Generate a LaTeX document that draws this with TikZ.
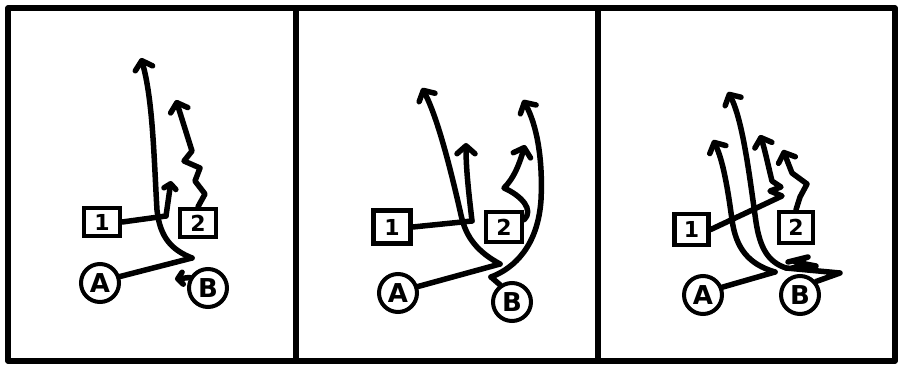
\documentclass[tikz,border=0pt]{standalone}
\usepackage{fontspec}
\setmainfont{DejaVu Sans}
\usetikzlibrary{arrows.meta}
\begin{document}
\begin{tikzpicture}[x=1pt,y=-1pt,
  frame/.style={line width=5.5pt, line join=round},
  route/.style={line width=5.5pt, line cap=round, line join=round},
  arr/.style={route, -{Straight Barb[length=8pt,width=18pt,round]}},
  arrsmall/.style={route, -{Straight Barb[length=5pt,width=12pt,round]}},
  player/.style={circle, draw, line width=4pt, minimum size=38pt, inner sep=0pt, fill=white,
    font=\bfseries\fontsize{26}{26}\selectfont},
  rec/.style={rectangle, draw, line width=4.5pt, minimum width=36pt, minimum height=28pt, inner sep=0pt, fill=white,
    font=\bfseries\fontsize{22}{22}\selectfont}]
\useasboundingbox (0,0) rectangle (899,366);
% frame
\draw[frame] (8,8) rectangle (895,361);
\draw[frame] (296,8) -- (296,361);
\draw[frame] (598,8) -- (598,361);

% ---------- panel 1 ----------
\coordinate (k1) at (192,258);
\coordinate (t1) at (141,58);
\coordinate (c11) at (166,216);
\coordinate (t11) at (171,181);
\coordinate (t12) at (176,100);
\coordinate (t13) at (175,279);
\draw[arr] (k1) .. controls (172,250) and (160,238) .. (157,210) .. controls (154,160) and (153,100) .. (t1);
\draw[arrsmall] (c11) -- (t11);
\node[rec] (b11) at (102,222) {1};
\node[rec] (b12) at (198,223) {2};
\node[player] (A1) at (100,283) {A};
\node[player] (B1) at (208,288) {B};
\draw[route] (A1.18) -- (k1);
\draw[route] (b11.east) -- (c11);
\draw[arr] (b12.north) -- (205,194) -- (195,181) -- (200,168) -- (184,161) -- (192,151) -- (t12);
\draw[arrsmall] (B1.150) -- (t13);

% ---------- panel 2 ----------
\coordinate (k2) at (500,264);
\coordinate (t2) at (422,88);
\coordinate (c21) at (472,221);
\coordinate (t21) at (466,143);
\coordinate (k22) at (504,188);
\coordinate (t22) at (525,145);
\coordinate (k23) at (491,277);
\coordinate (t23) at (523,100);
\draw[arr] (k2) .. controls (478,252) and (466,238) .. (461,215) .. controls (452,175) and (438,118) .. (t2);
\draw[arr] (c21) .. controls (469,195) and (466,170) .. (t21);
\draw[arr] (k23) .. controls (515,268) and (538,245) .. (541,200) .. controls (543,160) and (537,125) .. (t23);
\node[rec, minimum width=37pt, minimum height=33pt] (b21) at (392,227) {1};
\node[rec, minimum height=30pt] (b22) at (504,227) {2};
\node[player] (A2) at (398,293) {A};
\node[player] (B2) at (512,302) {B};
\draw[route] (A2.18) -- (k2);
\draw[route] (b21.east) -- (c21);
\draw[arr] (b22.20) .. controls (534,210) and (522,196) .. (k22) .. controls (514,178) and (519,165) .. (t22);
\draw[route] (B2.125) -- (k23);

% ---------- panel 3 ----------
\coordinate (k3) at (775,272);
\coordinate (t3) at (713,140);
\coordinate (k31) at (840,273);
\coordinate (k32) at (786,268);
\coordinate (t31) at (728,92);
\coordinate (w1) at (788,262);
\coordinate (t32) at (760,135);
\coordinate (t33) at (783,150);
\draw[arr] (k3) .. controls (748,264) and (736,248) .. (732,220) .. controls (728,190) and (723,160) .. (t3);
\draw[arr] (k32) .. controls (768,262) and (760,248) .. (756,222) .. controls (750,180) and (743,120) .. (t31);
\draw[route] (w1) -- (808,257) -- (795,262) -- (816,266) -- (792,268);
\node[rec, minimum width=34pt, minimum height=31pt] (b31) at (691.5,229.5) {1};
\node[rec, minimum width=34pt, minimum height=31pt] (b32) at (796,227.5) {2};
\node[player] (A3) at (703,295) {A};
\node[player] (B3) at (800,295) {B};
\draw[route] (A3.22) -- (k3);
\draw[route] (B3.40) -- (k31) -- (k32);
\draw[arr] (b31.east) -- (782,196) -- (770,191) -- (781,187) -- (772,181) .. controls (768,165) and (765,150) .. (t32);
\draw[arr] (b32.north) -- (800,197) -- (807,184) -- (792,173) -- (t33);
\end{tikzpicture}
\end{document}
